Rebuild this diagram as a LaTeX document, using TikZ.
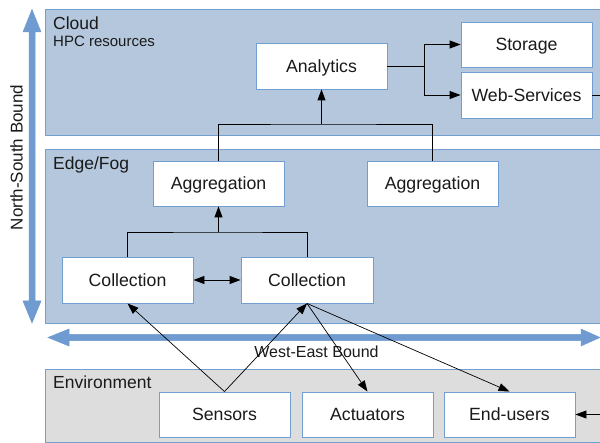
\documentclass[tikz,border=0pt]{standalone}
\usepackage{fontspec}
\setmainfont{Liberation Sans}
\usetikzlibrary{arrows.meta}
\definecolor{zoneblue}{HTML}{B4C7DC}
\definecolor{edgeblue}{HTML}{729FCF}
\definecolor{arrowblue}{HTML}{6F9BD0}
\definecolor{envgray}{HTML}{DDDDDD}
\definecolor{txt}{HTML}{1A1A1A}
\tikzset{
  zone/.style={fill=zoneblue, draw=edgeblue, line width=0.9pt},
  envzone/.style={fill=envgray, draw=edgeblue, line width=0.9pt},
  box/.style={draw=edgeblue, fill=white, line width=0.9pt, minimum width=131pt, minimum height=45pt, inner sep=0pt, text height=13pt, text depth=0pt, text=txt, font=\fontsize{17.7}{20}\selectfont},
  zlabel/.style={anchor=base west, inner sep=0pt, text=txt, font=\fontsize{17.5}{20}\selectfont},
  sublabel/.style={anchor=base west, inner sep=0pt, text=txt, font=\fontsize{15}{18}\selectfont},
  conn/.style={draw=black, line width=0.9pt},
  arr/.style={conn, -{Triangle[length=11pt,width=8pt]}},
  darr/.style={conn, {Triangle[length=11pt,width=8pt]}-{Triangle[length=11pt,width=8pt]}},
  fatarrow/.style={fill=arrowblue, draw=arrowblue, line width=0.5pt},
}
\begin{document}
\begin{tikzpicture}[x=1pt,y=-1pt]
\useasboundingbox (0,0) rectangle (600,443);
\clip (0,0) rectangle (600,443);
\fill[white] (0,0) rectangle (600,443);
% zones
\draw[zone] (45,9.5) rectangle (610,135);
\draw[zone] (45,149) rectangle (610,323);
\draw[envzone] (45.5,369) rectangle (610,442);
\node[zlabel] (cloudlbl) at (53,30) {Cloud};
\node[sublabel] (hpclbl) at (53,46.5) {HPC resources};
\node[zlabel] (edgelbl) at (53,170) {Edge/Fog};
\node[zlabel] (envlbl) at (53,388.5) {Environment};
% fat arrows
\fill[fatarrow] (32,9.5) -- (41,32) -- (35,32) -- (35,301) -- (41,301) -- (32,323) -- (23,301) -- (29,301) -- (29,32) -- (23,32) -- cycle;
\fill[fatarrow] (48,337.5) -- (69,329) -- (69,334.3) -- (581,334.3) -- (581,329) -- (600,337.5) -- (581,346) -- (581,340.7) -- (69,340.7) -- (69,346) -- cycle;
\node[rotate=90, inner sep=0pt, text=txt, font=\fontsize{17}{20}\selectfont] (nslbl) at (16.5,157.5) {North-South Bound};
\node[inner sep=0pt, text=txt, font=\fontsize{16}{19}\selectfont] (welbl) at (316.5,351.5) {West-East Bound};
% nodes
\node[box, minimum height=46pt] (analytics) at (321.5,66) {Analytics};
\node[box] (storage) at (526.5,44.5) {Storage};
\node[box, minimum height=46pt] (web) at (526.5,95) {Web-Services};
\node[box] (agg1) at (218.5,183.5) {Aggregation};
\node[box] (agg2) at (432.5,183.5) {Aggregation};
\node[box, minimum height=46pt] (col1) at (127.5,280) {Collection};
\node[box, minimum height=46pt, minimum width=132pt] (col2) at (307,280) {Collection};
\node[box] (sensors) at (224.5,414.5) {Sensors};
\node[box] (actuators) at (367.5,414.5) {Actuators};
\node[box] (endusers) at (509.5,414.5) {End-users};
% junctions
\coordinate (br) at (424,66);
\coordinate (j1) at (321.5,124);
\coordinate (j2) at (218.5,232);
\coordinate (webout) at (605,95);
\coordinate (euin) at (605,414.5);
% connectors
\draw[conn] (analytics.east) -- (br);
\draw[arr] (br) |- (storage.west);
\draw[arr] (br) |- (web.west);
\draw[conn] (web.east) -- (webout);
\draw[conn] (agg1.north) |- (j1) -| (agg2.north);
\draw[arr] (j1) -- (analytics.south);
\draw[conn] (col1.north) |- (j2) -| (col2.north);
\draw[arr] (j2) -- (agg1.south);
\draw[darr] (col1.east) -- (col2.west);
\draw[arr, line width=0.7pt] (sensors.north) -- (col1.south);
\draw[arr, line width=0.7pt] (sensors.north) -- (col2.south);
\draw[arr, line width=0.7pt] (col2.south) -- (actuators.north);
\draw[arr, line width=0.7pt] (col2.south) -- (endusers.north);
\draw[arr, line width=0.7pt] (euin) -- (endusers.east);
\end{tikzpicture}
\end{document}
